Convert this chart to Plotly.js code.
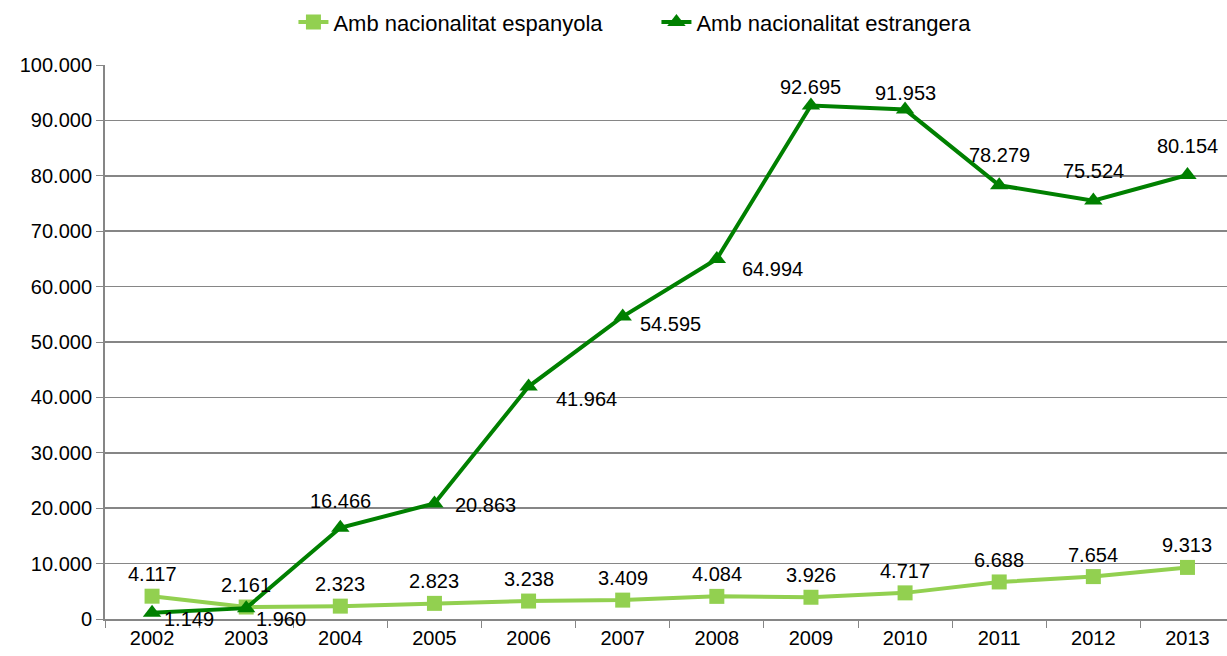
<!DOCTYPE html>
<html>
<head>
<meta charset="utf-8">
<script src="https://cdn.plot.ly/plotly-3.0.1.min.js"></script>
<style>html,body{margin:0;padding:0;background:#fff;overflow:hidden}#chart{width:1227px;height:656px}</style>
</head>
<body>
<div id="chart"></div>
<script>
const years = ["2002","2003","2004","2005","2006","2007","2008","2009","2010","2011","2012","2013"];
const espanyola = [4117, 2161, 2323, 2823, 3238, 3409, 4084, 3926, 4717, 6688, 7654, 9313];
const estrangera = [1149, 1960, 16466, 20863, 41964, 54595, 64994, 92695, 91953, 78279, 75524, 80154];
const seriesNames = ["Amb nacionalitat espanyola", "Amb nacionalitat estrangera"];
const yTicks = [0,10000,20000,30000,40000,50000,60000,70000,80000,90000,100000];

// label placement styles (pixels) for the foreign-nationality series
const estAnchor = ["left","left","center","left","left","left","left","center","center","center","center","center"];
const estDx = [10, 8, 0, 19, 25, 15, 23, 0, 0, 0, 0, 0];
const estDy = [-6, -11, 27, -2, -12, -7, -10, 18, 17, 30, 30, 29];

const fmt = v => v.toLocaleString('de-DE');
const font = {family: "Liberation Sans, Arial, sans-serif", size: 20, color: "#000"};
const legendFont = {family: "Liberation Sans, Arial, sans-serif", size: 22, color: "#000"};

const traces = [
  {
    x: years, y: espanyola, name: seriesNames[0], type: "scatter", mode: "lines+markers",
    line: {color: "#92D050", width: 4},
    marker: {symbol: "square", size: 15, color: "#92D050"},
    cliponaxis: false
  },
  {
    x: years, y: estrangera, name: seriesNames[1], type: "scatter", mode: "lines+markers",
    line: {color: "#008000", width: 4},
    marker: {symbol: "triangle-up", size: 16, color: "#008000"},
    cliponaxis: false
  }
];

// annotations on a category axis are placed by category index
const annotations = [];
years.forEach((yr, i) => {
  annotations.push({
    x: i, y: espanyola[i], xref: "x", yref: "y", text: fmt(espanyola[i]),
    showarrow: false, xanchor: "center", yanchor: "middle", yshift: 22, font: font
  });
  annotations.push({
    x: i, y: estrangera[i], xref: "x", yref: "y", text: fmt(estrangera[i]),
    showarrow: false, xanchor: estAnchor[i], yanchor: "middle",
    xshift: estDx[i], yshift: estDy[i], font: font
  });
});

const layout = {
  width: 1227, height: 656,
  margin: {l: 105, r: 0, t: 65, b: 37},
  paper_bgcolor: "#fff", plot_bgcolor: "#fff",
  font: font,
  showlegend: true,
  legend: {orientation: "h", xref: "container", x: 0.535, xanchor: "center",
           yref: "container", y: 0.966, yanchor: "middle", font: legendFont,
           itemwidth: 30, entrywidth: 318, tracegroupgap: 0},
  annotations: annotations,
  xaxis: {
    type: "category", range: [-0.5, 11.42], tickson: "boundaries",
    ticks: "outside", ticklen: 7, tickcolor: "#868686",
    showline: true, linecolor: "#868686", linewidth: 2,
    showgrid: false, tickfont: font, fixedrange: true
  },
  yaxis: {
    range: [0, 100000], tickvals: yTicks, ticktext: yTicks.map(fmt),
    ticks: "outside", ticklen: 7, tickcolor: "#868686",
    showline: true, linecolor: "#868686", linewidth: 2,
    showgrid: true, gridcolor: "#868686", gridwidth: 1.5,
    zeroline: false, tickfont: font, fixedrange: true
  }
};
Plotly.newPlot("chart", traces, layout, {displayModeBar: false, staticPlot: true});
</script>
</body>
</html>
